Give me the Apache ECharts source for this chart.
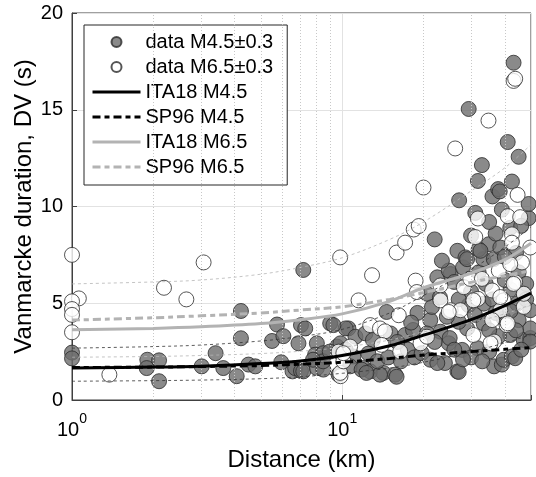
<!DOCTYPE html>
<html><head><meta charset="utf-8">
<script src="https://cdn.jsdelivr.net/npm/echarts@6/dist/echarts.min.js"></script>
<style>html,body{margin:0;padding:0;background:#fff}#c{width:536px;height:477px}</style>
</head><body><div id="c"></div>
<script>
// ---- data ----
const distGrid = [1, 2, 3, 5, 7, 10, 15, 20, 30, 40, 50];
const ita18M45 = [1.65, 1.70, 1.75, 1.88, 2.02, 2.30, 2.80, 3.35, 4.15, 4.88, 5.52];
const sp96M45  = [1.68, 1.70, 1.73, 1.78, 1.85, 1.95, 2.15, 2.32, 2.50, 2.62, 2.71];
const ita18M65 = [3.63, 3.70, 3.78, 3.95, 4.15, 4.45, 5.10, 5.80, 6.55, 7.25, 8.10];
const sp96M65  = [4.13, 4.25, 4.35, 4.50, 4.65, 4.82, 5.20, 5.55, 6.08, 6.42, 6.68];
const ita18M45Up = [2.68, 2.76, 2.84, 3.05, 3.28, 3.65, 4.50, 5.40, 6.75, 7.90, 8.95];
const ita18M45Lo = [0.97, 1.00, 1.03, 1.10, 1.20, 1.38, 1.65, 1.95, 2.50, 2.95, 3.38];
const ita18M65Up = [6.00, 6.10, 6.20, 6.50, 6.85, 7.35, 8.30, 9.20, 10.80, 12.00, 13.20];
const ita18M65Lo = [2.21, 2.25, 2.30, 2.40, 2.52, 2.72, 3.10, 3.52, 4.00, 4.45, 4.92];

const dataM45 = [
 [1.0,2.45],[1.0,2.15],[1.90,2.08],[2.10,2.05],[2.10,0.97],[1.89,1.65],
 [3.02,1.74],[3.40,2.42],[3.63,1.65],[4.07,1.23],[4.22,4.6],[4.22,3.19],[4.5,1.83],[4.77,1.74],
 [5.5,3.05],[5.74,3.9],[6.06,3.3],[5.95,1.95],[6.55,1.48],[6.7,1.65],[7.04,3.87],[7.3,3.7],[7.18,6.72],
 [7.04,1.5],[7.18,1.48],[6.89,2.93],[8.06,2.93],[7.94,2.34],[8.52,2.42],[8.06,1.65],[8.52,1.57],[8.5,2.0],
 [9.03,3.96],[9.57,2.76],[9.86,2.93],[7.8,2.08],
 [10.55,3.7],[10.3,3.7],[9.28,3.87],[11.2,3.27],[12.2,3.44],[11.0,2.25],[10.7,1.74],[12.0,1.65],[12.7,1.48],
 [14.2,1.4],[15.7,1.31],[13.8,1.31],[15.9,1.2],[11.8,1.57],[12.3,1.4],[9.7,1.31],
 [14.6,4.55],[15.1,3.44],[17.1,3.36],[18.3,3.62],[13.0,3.1],[10.3,2.6],[12.5,2.4],[13.5,2.0],[14.8,2.2],
 [16.5,2.0],[17.5,2.6],[18.5,2.2],[16.0,3.0],[19.7,2.42],[9.0,2.5],
 [21.2,2.08],[24.0,1.91],[22.5,1.91],[26.7,1.48],[27.0,1.45],[36.5,1.74],[39.0,1.83],[39.6,2.08],[42.5,2.25],
 [43.7,2.16],[47.0,3.1],[49.7,3.2],[49.7,3.7],[49.7,4.64],[49.7,3.02],
 [21.2,4.13],[20.6,3.44],[23.1,3.53],[24.8,2.93],[27.8,2.59],[31.7,2.68],[29.0,3.7],[33.4,3.96],[27.0,4.04],
 [24.4,4.3],[29.4,4.9],[33.4,4.98],[21.5,4.81],[20.6,5.49],[41.9,3.36],[45.0,4.13],[39.6,4.21],[44.4,4.98],
 [22.5,6.34],[25.2,6.51],[32.0,6.6],[24.8,6.69],[28.0,6.85],[33.3,7.28],[36.4,7.28],[23.4,7.2],[22.0,8.3],
 [34.9,8.05],[32.0,7.79],[38.5,7.88],[26.7,7.71],[28.6,7.37],[29.0,7.28],[32.5,7.71],
 [41.9,8.9],[31.1,9.67],[39.0,9.84],[49.0,9.4],[27.1,10.32],[36.0,10.52],[49.0,10.13],[37.8,10.9],[38.3,10.78],
 [31.8,11.32],[42.5,11.29],[32.9,12.14],[45.0,12.57],[41.0,13.33],[29.4,15.04],[43.1,17.43],
 [25,3.2],[30,2.2],[35,2.5],[38,3.3],[44,3.6],[46,2.6],[47,5.5],[42,5.7],[36,5.2],[34,6.0],[40,6.2],[45,6.6],
 [30,5.6],[27,5.2],[23,5.3],[35,3.6],[33,2.0],[28,2.1],[48,6.0],[44,7.6],[40,7.4],[37,8.6],[46,9.0],[30,8.5],
 [35,9.2],[26,6.1],[22,3.0],[19,4.5],[18,4.0],[26,2.6],[31,4.4],[37,4.5],[42,4.6],[48,5.2]
];
const dataM65 = [
 [1.0,7.5],[1.06,5.25],[1.0,5.1],[1.0,4.7],[1.0,4.4],[1.0,3.5],[1.375,1.31],[2.19,5.8],[2.65,5.2],[3.07,7.11],
 [9.83,7.37],[9.86,1.23],[9.83,1.4],[9.7,2.5],[10.1,2.0],[10.7,2.76],[10.1,2.42],[11.5,5.15],[12.9,6.45],
 [12.7,3.87],[13.8,3.7],[14.4,3.55],[14.0,2.85],[16.2,4.38],[16.4,2.5],[19.5,2.93],[20.6,3.27],
 [15.9,7.62],[17.1,8.13],[18.4,8.81],[19.2,8.99],[20.0,10.98],[18.7,6.17],[18.9,5.58],[26.2,13.0],[34.8,14.44],
 [43.1,16.49],[43.7,16.6],
 [23.1,5.92],[28.2,5.83],[29.8,6.26],[38.0,6.69],[43.7,6.09],[35.9,5.66],[23.1,5.15],[25.2,4.64],[27.4,4.64],
 [24.8,4.55],[31.8,5.23],[30.6,5.15],[39.6,5.15],[38.5,4.64],[35.9,4.13],[40.6,3.87],[47.0,4.81],[47.0,5.49],
 [38.5,5.32],[30.6,3.36],[36.5,3.02],[41.0,3.96],[35.4,2.93],[32.9,6.26],[43.1,6.0],[46.3,7.11],[41.9,7.02],
 [31.1,8.42],[42.5,8.56],[42.5,8.13],[49.7,7.88],[31.8,9.38],[41.0,9.5],[45.6,9.45],[44.6,10.6]
];
const minorGrid = [2, 3, 4, 5, 6, 7, 8, 9, 20, 30, 40];
const xTickValues = [1, 10];
const xTickExps = ['0', '1'];
const yTicks = [0, 5, 10, 15, 20];

// ---- chart ----
const FONT = 'Liberation Sans, Arial, Helvetica, sans-serif';
const pair = (ys) => distGrid.map((x, i) => [x, ys[i]]);
const chart = echarts.init(document.getElementById('c'), null, {renderer: 'canvas'});
const DASHDOT = [8, 4, 5, 4];

function curve(name, ys, color, width, type, z) {
  return { name, type: 'line', data: pair(ys), symbol: 'none', smooth: 0.35, z,
    lineStyle: { color, width, type }, itemStyle: { color }, silent: true };
}
const noSym = { color: 'transparent', borderWidth: 0, opacity: 0 };

const option = {
  animation: false,
  backgroundColor: '#fff',
  textStyle: { fontFamily: FONT },
  grid: { left: 72, right: 5, top: 13, bottom: 73, show: true, borderColor: '#404040', borderWidth: 1, backgroundColor: 'transparent' },
  legend: {
    data: [
      { name: 'data M4.5±0.3' },
      { name: 'data M6.5±0.3' },
      { name: 'ITA18 M4.5', itemStyle: noSym },
      { name: 'SP96 M4.5', itemStyle: noSym },
      { name: 'ITA18 M6.5', itemStyle: noSym },
      { name: 'SP96 M6.5', itemStyle: noSym }
    ],
    orient: 'vertical', left: 84, top: 25, padding: [7, 14, 8, 7], itemGap: 5,
    itemWidth: 48, itemHeight: 10, backgroundColor: '#fff', borderColor: '#262626', borderWidth: 1,
    lineStyle: { width: 3 },
    textStyle: { fontSize: 20, color: '#000', fontFamily: FONT }, selectedMode: false
  },
  xAxis: {
    type: 'log', logBase: 10, min: 1, max: 50,
    name: 'Distance (km)', nameLocation: 'middle', nameGap: 48, nameMoveOverlap: false,
    nameTextStyle: { fontSize: 24, color: '#000', fontFamily: FONT },
    axisLine: { show: true, lineStyle: { color: '#404040' } },
    axisTick: { show: true, inside: true, length: 5, lineStyle: { color: '#404040' } },
    splitLine: { show: true, lineStyle: { color: '#e2e2e2' } },
    axisLabel: {
      margin: 12, color: '#000', fontFamily: FONT,
      formatter: (v) => {
        const i = xTickValues.findIndex(t => Math.abs(t - v) < 1e-6);
        return i < 0 ? '' : '{b|10}{s|' + xTickExps[i] + '}';
      },
      rich: {
        b: { fontSize: 20, color: '#000', fontFamily: FONT, padding: [8, 0, 0, 0], verticalAlign: 'bottom' },
        s: { fontSize: 14, color: '#000', fontFamily: FONT, verticalAlign: 'top' }
      }
    }
  },
  yAxis: {
    type: 'value', min: yTicks[0], max: yTicks[yTicks.length - 1], interval: 5,
    name: 'Vanmarcke duration, DV (s)', nameLocation: 'middle', nameGap: 36, nameRotate: 90, nameMoveOverlap: false,
    nameTextStyle: { fontSize: 24, color: '#000', fontFamily: FONT },
    axisLine: { show: true, lineStyle: { color: '#404040' } },
    axisTick: { show: true, inside: true, length: 5, lineStyle: { color: '#404040' } },
    splitLine: { show: true, lineStyle: { color: '#e2e2e2' } },
    axisLabel: { fontSize: 20, color: '#000', margin: 9, fontFamily: FONT }
  },
  series: [
    { name: 'minor grid', type: 'line', data: [], z: 1, silent: true,
      markLine: { silent: true, symbol: ['none', 'none'], label: { show: false }, animation: false,
        lineStyle: { color: '#c8c8c8', type: [1, 2], width: 1 },
        data: minorGrid.map(v => ({ xAxis: v })) } },
    { name: 'data M4.5±0.3', type: 'scatter', data: dataM45, symbol: 'circle', symbolSize: 15, z: 2,
      itemStyle: { color: '#6d6d6d', borderColor: '#2b2b2b', borderWidth: 1 } },
    { name: 'data M6.5±0.3', type: 'scatter', data: dataM65, symbol: 'circle', symbolSize: 15, z: 3,
      itemStyle: { color: '#ffffff', borderColor: '#2b2b2b', borderWidth: 1 } },
    curve('ITA18 M4.5 +σ', ita18M45Up, '#333333', 0.8, [3, 3], 4),
    curve('ITA18 M4.5 -σ', ita18M45Lo, '#333333', 0.8, [3, 3], 4),
    curve('ITA18 M6.5 +σ', ita18M65Up, '#b5b5b5', 0.8, [3, 3], 4),
    curve('ITA18 M6.5 -σ', ita18M65Lo, '#b5b5b5', 0.8, [3, 3], 4),
    curve('ITA18 M4.5', ita18M45, '#000000', 3, 'solid', 5),
    curve('SP96 M4.5', sp96M45, '#000000', 3, DASHDOT, 5),
    curve('ITA18 M6.5', ita18M65, '#b3b3b3', 3, 'solid', 5),
    curve('SP96 M6.5', sp96M65, '#b3b3b3', 3, DASHDOT, 5)
  ]
};
chart.setOption(option);
</script></body></html>
